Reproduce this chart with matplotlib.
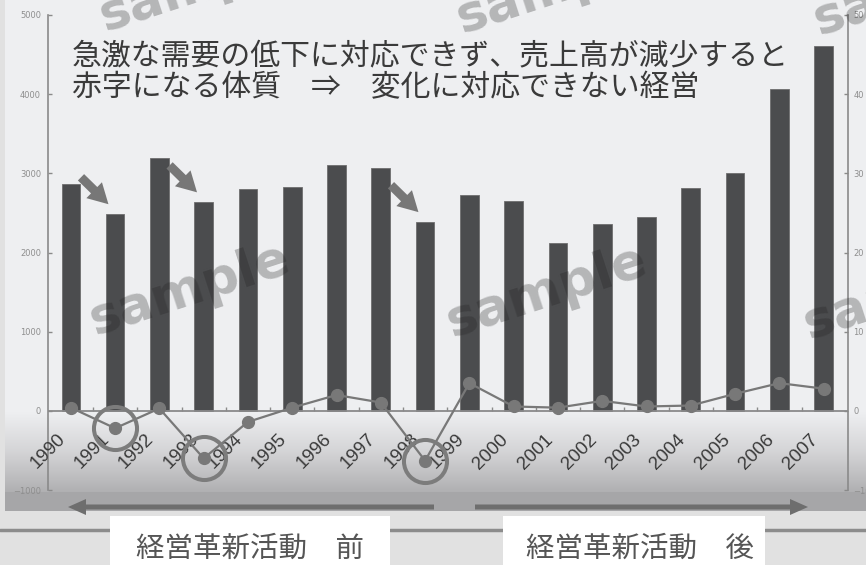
import numpy as np
import matplotlib
matplotlib.use("Agg")
import matplotlib.pyplot as plt
from matplotlib.patches import Rectangle, FancyArrow
from matplotlib.colors import LinearSegmentedColormap

# ---- data -------------------------------------------------------------
years = [str(y) for y in range(1990, 2008)]
sales = [2870, 2490, 3200, 2640, 2800, 2830, 3100, 3070, 2390,
         2730, 2650, 2120, 2360, 2450, 2810, 3000, 4060, 4610]
profit = [0.4, -2.2, 0.3, -6.0, -1.4, 0.4, 2.0, 1.05, -6.3,
          3.5, 0.55, 0.4, 1.26, 0.55, 0.67, 2.15, 3.5, 2.8]
drop_years = ["1991", "1993", "1998"]
left_ticks = [-1000, 0, 1000, 2000, 3000, 4000, 5000]
right_ticks = [-10, 0, 10, 20, 30, 40, 50]
headline = ["急激な需要の低下に対応できず、売上高が減少すると",
            "赤字になる体質　⇒　変化に対応できない経営"]
phase_labels = ["経営革新活動　前", "経営革新活動　後"]

JP = ["Noto Sans CJK JP", "DejaVu Sans"]
W, H = 866, 565

fig = plt.figure(figsize=(W / 100, H / 100), dpi=100)

# ---- background layer (pixel coordinates) ----------------------------
bg = fig.add_axes([0, 0, 1, 1], zorder=0)
bg.axis("off")
bg.add_patch(Rectangle((0, 0), W, H, color="#e1e1e1", lw=0, zorder=0.5))
bg.add_patch(Rectangle((5, 0), W - 5, 511, color="#eeeff1", lw=0, zorder=0.6))
cmap = LinearSegmentedColormap.from_list("fade", ["#eeeff1", "#d4d4d6", "#b0b0b2"])
bg.imshow(np.linspace(0, 1, 200)[:, None], extent=(5, W, 492, 412),
          cmap=cmap, aspect="auto", interpolation="bilinear", zorder=0.7)
bg.add_patch(Rectangle((5, 492), W - 5, 19, color="#a6a6a8", lw=0, zorder=0.8))
arrow_kw = dict(width=5, head_width=16, head_length=18,
                length_includes_head=True, color="#6e6e6e", lw=0, zorder=1)
bg.add_patch(FancyArrow(434, 507, 68 - 434, 0, **arrow_kw))
bg.add_patch(FancyArrow(475, 507, 808 - 475, 0, **arrow_kw))
for x0, x1 in [(0, 110), (390, 503), (765, W)]:
    bg.plot([x0, x1], [530, 530], color="#8c8c8c", lw=2.5,
            solid_capstyle="round", zorder=1)
bg.add_patch(Rectangle((110, 516), 280, 49, color="white", lw=0, zorder=1.2))
bg.add_patch(Rectangle((503, 516), 262, 49, color="white", lw=0, zorder=1.2))
bg.text(250, 549, phase_labels[0], family=JP, fontsize=20.5,
        color="#555555", ha="center", va="center", zorder=2)
bg.text(640, 549, phase_labels[1], family=JP, fontsize=20.5,
        color="#555555", ha="center", va="center", zorder=2)
bg.set_xlim(0, W)
bg.set_ylim(H, 0)

# ---- chart axes --------------------------------------------------------
ax = fig.add_axes([48 / W, 1 - 490 / H, 800 / W, 475 / H], zorder=1)
ax.patch.set_alpha(0)
x = np.arange(len(years))
ax.bar(x, sales, width=0.42, color="#4b4c4e", edgecolor="#6e6e6e",
       linewidth=0.6, zorder=2)
ax.axhline(0, color="#8a8a8a", lw=1.3, zorder=3)
ax.vlines(x[:-1] + 0.5, 0, 50, color="#8a8a8a", lw=1, zorder=3)
ax.set_xlim(-0.515, 17.55)
ax.set_ylim(-1000, 5000)
ax.set_xticks([])
ax.set_yticks(left_ticks)
ax.tick_params(axis="y", direction="in", length=3, width=1, color="#8a8a8a",
               labelsize=6, labelcolor="#8e8e8e", pad=5)
for s in ("top", "bottom", "right"):
    ax.spines[s].set_visible(False)
ax.spines["left"].set_color("#8a8a8a")
ax.spines["left"].set_linewidth(1.2)

for i, y in enumerate(years):
    ax.annotate(y, xy=(i, 0), xytext=(-8, -26), textcoords="offset pixels",
                rotation=45, rotation_mode="anchor", ha="right", va="center",
                fontsize=13.5, family="Liberation Sans", color="#3a3a3a",
                annotation_clip=False)

# arrows marking the year-on-year drops in sales
for y in drop_years:
    k = years.index(y)
    end = (k - 0.15, sales[k] + 120)
    start = (end[0] - 0.62, end[1] + 340)
    ax.annotate("", xy=end, xytext=start,
                arrowprops=dict(arrowstyle="simple,head_length=0.9,"
                                "head_width=1.0,tail_width=0.4",
                                mutation_scale=16, color="#777777", lw=0,
                                shrinkA=0, shrinkB=0),
                zorder=4, annotation_clip=False)

# profit line on the secondary axis
ax2 = ax.twinx()
ax2.set_ylim(-10, 50)
ax2.set_yticks(right_ticks)
ax2.tick_params(axis="y", direction="in", length=3, width=1, color="#8a8a8a",
                labelsize=6, labelcolor="#8e8e8e", pad=4)
for s in ("top", "bottom", "left"):
    ax2.spines[s].set_visible(False)
ax2.spines["right"].set_color("#8a8a8a")
ax2.spines["right"].set_linewidth(1.2)
ax2.plot(x, profit, color="#787878", lw=1.6, marker="o", ms=8.5,
         mfc="#787878", mec="#787878", zorder=3)
di = [years.index(y) for y in drop_years]
ax2.plot(di, [profit[i] for i in di], "o", ms=31, mfc="none",
         mec="#7c7c7c", mew=2.9, zorder=4)

# ---- overlay: headline and watermark ----------------------------------
ov = fig.add_axes([0, 0, 1, 1], zorder=5)
ov.axis("off")
ov.patch.set_alpha(0)
ov.set_xlim(0, W)
ov.set_ylim(H, 0)
for j, line in enumerate(headline):
    ov.text(72, 56 + 31.5 * j, line, family=JP, fontsize=21.5,
            color="#3a3a3a", ha="left", va="center")
for cx, cy in [(190, 290), (547, 292), (904, 294),
               (200, -14), (557, -12), (914, -10)]:
    ov.text(cx, cy, "sample", fontsize=37, fontweight="bold",
            family="DejaVu Sans", color="#202020", alpha=0.28,
            rotation=18, rotation_mode="anchor", ha="center", va="center")

fig.savefig("out.png", dpi=100)
